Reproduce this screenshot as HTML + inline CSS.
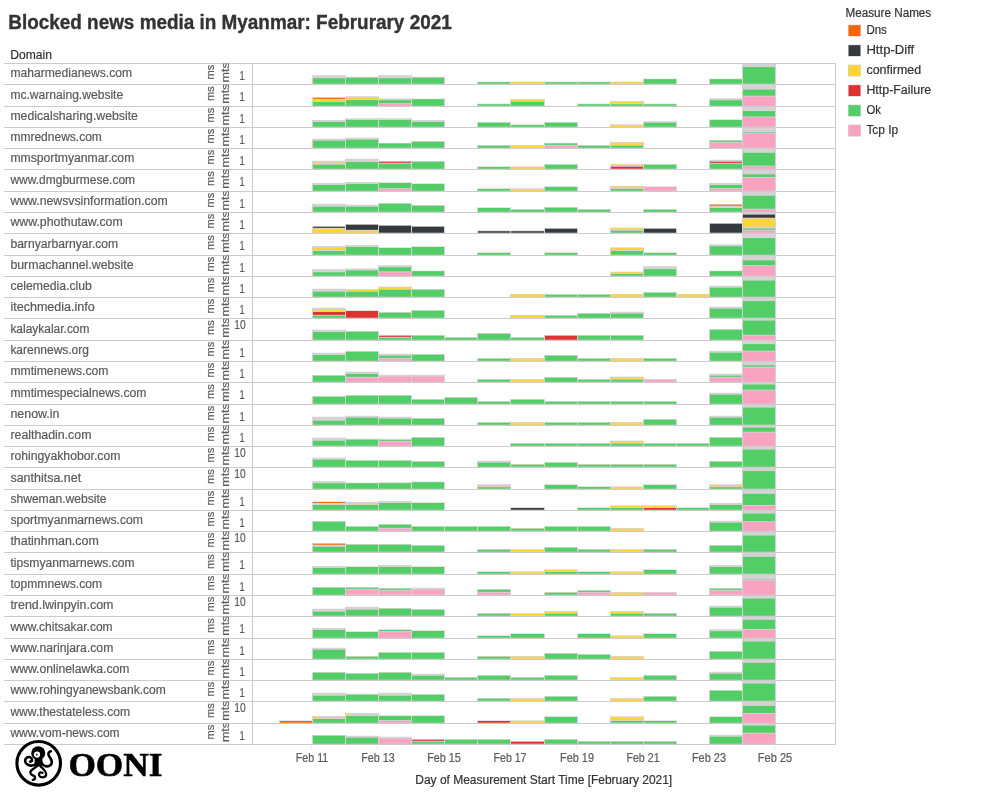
<!DOCTYPE html>
<html lang="en"><head><meta charset="utf-8"><title>Blocked news media in Myanmar</title>
<style>html,body{margin:0;padding:0;background:#fff}body{width:1000px;height:800px;overflow:hidden}svg{display:block;will-change:transform}text{font-family:"Liberation Sans",sans-serif;font-size:12px}.d{fill:#5a5a5a;stroke:#5a5a5a;stroke-width:0.2px}.r{font-size:11.5px}.k{fill:#333333;stroke:#333;stroke-width:0.2px}.t{font-weight:bold;font-size:20px;fill:#333333}.o{font-family:"Liberation Serif",serif;font-weight:bold;font-size:33.5px;fill:#000}</style></head><body>
<svg width="1000" height="800" viewBox="0 0 1000 800">
<rect width="1000" height="800" fill="#fff"/>
<text x="8.3" y="29.2" class="t" textLength="443.4" stroke="#333" stroke-width="0.35" lengthAdjust="spacingAndGlyphs">Blocked news media in Myanmar: Februrary 2021</text>
<text x="10.3" y="58.6" class="k" textLength="41.7" lengthAdjust="spacingAndGlyphs">Domain</text>
<g>
<rect x="742" y="63" width="34" height="681" fill="#d4d2d4"/>
<rect x="312" y="75.25" width="34" height="8.75" fill="#d4d2d4"/>
<rect x="313" y="78.25" width="32" height="5.45" fill="#51cf66"/>
<rect x="345" y="76.75" width="34" height="7.25" fill="#d4d2d4"/>
<rect x="346" y="77.75" width="32" height="5.95" fill="#51cf66"/>
<rect x="378" y="75.25" width="34" height="8.75" fill="#d4d2d4"/>
<rect x="379" y="78.25" width="32" height="5.45" fill="#51cf66"/>
<rect x="411" y="76.75" width="34" height="7.25" fill="#d4d2d4"/>
<rect x="412" y="77.75" width="32" height="5.95" fill="#51cf66"/>
<rect x="477" y="81.65" width="34" height="2.35" fill="#d4d2d4"/>
<rect x="478" y="82.25" width="32" height="1.45" fill="#51cf66"/>
<rect x="510" y="81.65" width="35" height="2.35" fill="#d4d2d4"/>
<rect x="511" y="82.25" width="33" height="1.45" fill="#ffd43b"/>
<rect x="544" y="81.65" width="34" height="2.35" fill="#d4d2d4"/>
<rect x="545" y="82.25" width="32" height="1.45" fill="#51cf66"/>
<rect x="577" y="81.65" width="34" height="2.35" fill="#d4d2d4"/>
<rect x="578" y="82.25" width="32" height="1.45" fill="#51cf66"/>
<rect x="610" y="81.65" width="34" height="2.35" fill="#d4d2d4"/>
<rect x="611" y="82.25" width="32" height="1.45" fill="#ffd43b"/>
<rect x="643" y="78.65" width="34" height="5.35" fill="#d4d2d4"/>
<rect x="644" y="79.25" width="32" height="4.45" fill="#51cf66"/>
<rect x="709" y="78.65" width="34" height="5.35" fill="#d4d2d4"/>
<rect x="710" y="79.25" width="32" height="4.45" fill="#51cf66"/>
<rect x="743" y="67.10" width="32" height="16.60" fill="#51cf66"/>
<rect x="312" y="97.05" width="34" height="8.95" fill="#d4d2d4"/>
<rect x="313" y="101.95" width="32" height="3.75" fill="#51cf66"/>
<rect x="313" y="99.85" width="32" height="1.20" fill="#ffd43b"/>
<rect x="313" y="97.95" width="32" height="1.00" fill="#f76707"/>
<rect x="345" y="96.25" width="34" height="9.75" fill="#d4d2d4"/>
<rect x="346" y="100.05" width="32" height="5.65" fill="#51cf66"/>
<rect x="346" y="97.95" width="32" height="1.20" fill="#ffd43b"/>
<rect x="378" y="98.50" width="34" height="7.50" fill="#d4d2d4"/>
<rect x="379" y="104.05" width="32" height="1.65" fill="#faa2c1"/>
<rect x="379" y="100.25" width="32" height="2.90" fill="#51cf66"/>
<rect x="411" y="98.65" width="34" height="7.35" fill="#d4d2d4"/>
<rect x="412" y="99.25" width="32" height="6.45" fill="#51cf66"/>
<rect x="477" y="103.65" width="34" height="2.35" fill="#d4d2d4"/>
<rect x="478" y="104.25" width="32" height="1.45" fill="#51cf66"/>
<rect x="510" y="99.15" width="35" height="6.85" fill="#d4d2d4"/>
<rect x="511" y="101.75" width="33" height="3.95" fill="#51cf66"/>
<rect x="511" y="99.75" width="33" height="1.10" fill="#ffd43b"/>
<rect x="577" y="103.65" width="34" height="2.35" fill="#d4d2d4"/>
<rect x="578" y="104.25" width="32" height="1.45" fill="#51cf66"/>
<rect x="610" y="101.15" width="34" height="4.85" fill="#d4d2d4"/>
<rect x="611" y="104.25" width="32" height="1.45" fill="#51cf66"/>
<rect x="611" y="101.75" width="32" height="1.60" fill="#ffd43b"/>
<rect x="643" y="103.65" width="34" height="2.35" fill="#d4d2d4"/>
<rect x="644" y="104.25" width="32" height="1.45" fill="#51cf66"/>
<rect x="709" y="98.25" width="34" height="7.75" fill="#d4d2d4"/>
<rect x="710" y="100.25" width="32" height="5.45" fill="#51cf66"/>
<rect x="743" y="96.60" width="32" height="9.10" fill="#faa2c1"/>
<rect x="743" y="89.60" width="32" height="6.10" fill="#51cf66"/>
<rect x="312" y="120.00" width="34" height="7.00" fill="#d4d2d4"/>
<rect x="313" y="122.00" width="32" height="4.70" fill="#51cf66"/>
<rect x="345" y="118.25" width="34" height="8.75" fill="#d4d2d4"/>
<rect x="346" y="120.00" width="32" height="6.70" fill="#51cf66"/>
<rect x="378" y="118.25" width="34" height="8.75" fill="#d4d2d4"/>
<rect x="379" y="120.00" width="32" height="6.70" fill="#51cf66"/>
<rect x="411" y="120.00" width="34" height="7.00" fill="#d4d2d4"/>
<rect x="412" y="122.00" width="32" height="4.70" fill="#51cf66"/>
<rect x="477" y="122.15" width="34" height="4.85" fill="#d4d2d4"/>
<rect x="478" y="122.75" width="32" height="3.95" fill="#51cf66"/>
<rect x="510" y="124.45" width="35" height="2.55" fill="#d4d2d4"/>
<rect x="511" y="125.05" width="33" height="1.65" fill="#51cf66"/>
<rect x="544" y="122.15" width="34" height="4.85" fill="#d4d2d4"/>
<rect x="545" y="122.75" width="32" height="3.95" fill="#51cf66"/>
<rect x="610" y="124.40" width="34" height="2.60" fill="#d4d2d4"/>
<rect x="611" y="125.00" width="32" height="1.70" fill="#ffd43b"/>
<rect x="643" y="121.25" width="34" height="5.75" fill="#d4d2d4"/>
<rect x="644" y="122.75" width="32" height="3.95" fill="#51cf66"/>
<rect x="709" y="119.40" width="34" height="7.60" fill="#d4d2d4"/>
<rect x="710" y="120.00" width="32" height="6.70" fill="#51cf66"/>
<rect x="743" y="117.35" width="32" height="9.35" fill="#faa2c1"/>
<rect x="743" y="111.10" width="32" height="5.35" fill="#51cf66"/>
<rect x="312" y="138.75" width="34" height="9.25" fill="#d4d2d4"/>
<rect x="313" y="140.75" width="32" height="6.95" fill="#51cf66"/>
<rect x="345" y="137.75" width="34" height="10.25" fill="#d4d2d4"/>
<rect x="346" y="139.75" width="32" height="7.95" fill="#51cf66"/>
<rect x="378" y="142.90" width="34" height="5.10" fill="#d4d2d4"/>
<rect x="379" y="143.50" width="32" height="4.20" fill="#51cf66"/>
<rect x="411" y="141.15" width="34" height="6.85" fill="#d4d2d4"/>
<rect x="412" y="141.75" width="32" height="5.95" fill="#51cf66"/>
<rect x="477" y="145.15" width="34" height="2.85" fill="#d4d2d4"/>
<rect x="478" y="145.75" width="32" height="1.95" fill="#51cf66"/>
<rect x="510" y="145.15" width="35" height="2.85" fill="#d4d2d4"/>
<rect x="511" y="145.75" width="33" height="1.95" fill="#ffd43b"/>
<rect x="544" y="142.90" width="34" height="5.10" fill="#d4d2d4"/>
<rect x="545" y="145.75" width="32" height="1.95" fill="#faa2c1"/>
<rect x="545" y="143.50" width="32" height="1.35" fill="#51cf66"/>
<rect x="577" y="145.15" width="34" height="2.85" fill="#d4d2d4"/>
<rect x="578" y="145.75" width="32" height="1.95" fill="#51cf66"/>
<rect x="610" y="142.15" width="34" height="5.85" fill="#d4d2d4"/>
<rect x="611" y="145.75" width="32" height="1.95" fill="#51cf66"/>
<rect x="611" y="142.75" width="32" height="2.10" fill="#ffd43b"/>
<rect x="709" y="140.15" width="34" height="7.85" fill="#d4d2d4"/>
<rect x="710" y="142.75" width="32" height="4.95" fill="#faa2c1"/>
<rect x="710" y="140.75" width="32" height="1.10" fill="#51cf66"/>
<rect x="743" y="133.60" width="32" height="14.10" fill="#faa2c1"/>
<rect x="743" y="132.10" width="32" height="0.60" fill="#51cf66"/>
<rect x="312" y="160.75" width="34" height="8.25" fill="#d4d2d4"/>
<rect x="313" y="164.75" width="32" height="3.95" fill="#51cf66"/>
<rect x="313" y="162.75" width="32" height="1.10" fill="#ffd43b"/>
<rect x="345" y="158.75" width="34" height="10.25" fill="#d4d2d4"/>
<rect x="346" y="162.00" width="32" height="6.70" fill="#51cf66"/>
<rect x="378" y="161.15" width="34" height="7.85" fill="#d4d2d4"/>
<rect x="379" y="163.75" width="32" height="4.95" fill="#51cf66"/>
<rect x="379" y="161.75" width="32" height="1.10" fill="#e03131"/>
<rect x="411" y="161.15" width="34" height="7.85" fill="#d4d2d4"/>
<rect x="412" y="161.75" width="32" height="6.95" fill="#51cf66"/>
<rect x="477" y="166.40" width="34" height="2.60" fill="#d4d2d4"/>
<rect x="478" y="167.00" width="32" height="1.70" fill="#51cf66"/>
<rect x="510" y="166.40" width="35" height="2.60" fill="#d4d2d4"/>
<rect x="511" y="167.00" width="33" height="1.70" fill="#ffd43b"/>
<rect x="544" y="164.15" width="34" height="4.85" fill="#d4d2d4"/>
<rect x="545" y="164.75" width="32" height="3.95" fill="#51cf66"/>
<rect x="610" y="164.15" width="34" height="4.85" fill="#d4d2d4"/>
<rect x="611" y="166.75" width="32" height="1.95" fill="#e03131"/>
<rect x="611" y="164.75" width="32" height="1.10" fill="#ffd43b"/>
<rect x="643" y="164.15" width="34" height="4.85" fill="#d4d2d4"/>
<rect x="644" y="164.75" width="32" height="3.95" fill="#51cf66"/>
<rect x="709" y="159.75" width="34" height="9.25" fill="#d4d2d4"/>
<rect x="710" y="163.75" width="32" height="4.95" fill="#51cf66"/>
<rect x="710" y="161.75" width="32" height="1.10" fill="#e03131"/>
<rect x="743" y="166.60" width="32" height="2.10" fill="#faa2c1"/>
<rect x="743" y="152.85" width="32" height="12.85" fill="#51cf66"/>
<rect x="312" y="183.00" width="34" height="8.00" fill="#d4d2d4"/>
<rect x="313" y="185.00" width="32" height="5.70" fill="#51cf66"/>
<rect x="345" y="182.00" width="34" height="9.00" fill="#d4d2d4"/>
<rect x="346" y="184.00" width="32" height="6.70" fill="#51cf66"/>
<rect x="378" y="182.40" width="34" height="8.60" fill="#d4d2d4"/>
<rect x="379" y="189.00" width="32" height="1.70" fill="#faa2c1"/>
<rect x="379" y="183.00" width="32" height="5.10" fill="#51cf66"/>
<rect x="411" y="183.40" width="34" height="7.60" fill="#d4d2d4"/>
<rect x="412" y="184.00" width="32" height="6.70" fill="#51cf66"/>
<rect x="477" y="188.40" width="34" height="2.60" fill="#d4d2d4"/>
<rect x="478" y="189.00" width="32" height="1.70" fill="#51cf66"/>
<rect x="510" y="188.40" width="35" height="2.60" fill="#d4d2d4"/>
<rect x="511" y="189.00" width="33" height="1.70" fill="#ffd43b"/>
<rect x="544" y="186.40" width="34" height="4.60" fill="#d4d2d4"/>
<rect x="545" y="187.00" width="32" height="3.70" fill="#51cf66"/>
<rect x="610" y="185.90" width="34" height="5.10" fill="#d4d2d4"/>
<rect x="611" y="189.00" width="32" height="1.70" fill="#51cf66"/>
<rect x="611" y="186.50" width="32" height="1.60" fill="#ffd43b"/>
<rect x="643" y="186.40" width="34" height="4.60" fill="#d4d2d4"/>
<rect x="644" y="187.00" width="32" height="3.70" fill="#faa2c1"/>
<rect x="709" y="183.00" width="34" height="8.00" fill="#d4d2d4"/>
<rect x="710" y="189.00" width="32" height="1.70" fill="#faa2c1"/>
<rect x="710" y="185.00" width="32" height="3.10" fill="#51cf66"/>
<rect x="743" y="177.85" width="32" height="12.85" fill="#faa2c1"/>
<rect x="743" y="174.35" width="32" height="2.60" fill="#51cf66"/>
<rect x="312" y="203.75" width="34" height="8.25" fill="#d4d2d4"/>
<rect x="313" y="206.75" width="32" height="4.95" fill="#51cf66"/>
<rect x="345" y="204.75" width="34" height="7.25" fill="#d4d2d4"/>
<rect x="346" y="206.75" width="32" height="4.95" fill="#51cf66"/>
<rect x="378" y="203.15" width="34" height="8.85" fill="#d4d2d4"/>
<rect x="379" y="203.75" width="32" height="7.95" fill="#51cf66"/>
<rect x="411" y="205.15" width="34" height="6.85" fill="#d4d2d4"/>
<rect x="412" y="205.75" width="32" height="5.95" fill="#51cf66"/>
<rect x="477" y="207.40" width="34" height="4.60" fill="#d4d2d4"/>
<rect x="478" y="208.00" width="32" height="3.70" fill="#51cf66"/>
<rect x="510" y="209.15" width="35" height="2.85" fill="#d4d2d4"/>
<rect x="511" y="209.75" width="33" height="1.95" fill="#51cf66"/>
<rect x="544" y="207.15" width="34" height="4.85" fill="#d4d2d4"/>
<rect x="545" y="207.75" width="32" height="3.95" fill="#51cf66"/>
<rect x="577" y="209.15" width="34" height="2.85" fill="#d4d2d4"/>
<rect x="578" y="209.75" width="32" height="1.95" fill="#51cf66"/>
<rect x="643" y="209.15" width="34" height="2.85" fill="#d4d2d4"/>
<rect x="644" y="209.75" width="32" height="1.95" fill="#51cf66"/>
<rect x="709" y="204.15" width="34" height="7.85" fill="#d4d2d4"/>
<rect x="710" y="208.00" width="32" height="3.70" fill="#51cf66"/>
<rect x="710" y="204.75" width="32" height="1.00" fill="#f76707"/>
<rect x="743" y="209.60" width="32" height="2.10" fill="#faa2c1"/>
<rect x="743" y="195.85" width="32" height="12.85" fill="#51cf66"/>
<rect x="312" y="226.15" width="34" height="6.85" fill="#d4d2d4"/>
<rect x="313" y="228.75" width="32" height="3.95" fill="#ffd43b"/>
<rect x="313" y="226.75" width="32" height="1.10" fill="#343a40"/>
<rect x="345" y="224.15" width="34" height="8.85" fill="#d4d2d4"/>
<rect x="346" y="230.75" width="32" height="1.95" fill="#ffd43b"/>
<rect x="346" y="224.75" width="32" height="5.10" fill="#343a40"/>
<rect x="378" y="225.15" width="34" height="7.85" fill="#d4d2d4"/>
<rect x="379" y="225.75" width="32" height="6.95" fill="#343a40"/>
<rect x="411" y="226.15" width="34" height="6.85" fill="#d4d2d4"/>
<rect x="412" y="226.75" width="32" height="5.95" fill="#343a40"/>
<rect x="477" y="230.65" width="34" height="2.35" fill="#d4d2d4"/>
<rect x="478" y="231.25" width="32" height="1.45" fill="#343a40"/>
<rect x="510" y="230.65" width="35" height="2.35" fill="#d4d2d4"/>
<rect x="511" y="231.25" width="33" height="1.45" fill="#343a40"/>
<rect x="544" y="228.15" width="34" height="4.85" fill="#d4d2d4"/>
<rect x="545" y="228.75" width="32" height="3.95" fill="#343a40"/>
<rect x="610" y="227.65" width="34" height="5.35" fill="#d4d2d4"/>
<rect x="611" y="230.75" width="32" height="1.95" fill="#51cf66"/>
<rect x="611" y="228.25" width="32" height="1.60" fill="#ffd43b"/>
<rect x="643" y="228.15" width="34" height="4.85" fill="#d4d2d4"/>
<rect x="644" y="228.75" width="32" height="3.95" fill="#343a40"/>
<rect x="709" y="223.15" width="34" height="9.85" fill="#d4d2d4"/>
<rect x="710" y="223.75" width="32" height="8.95" fill="#343a40"/>
<rect x="743" y="230.60" width="32" height="2.10" fill="#faa2c1"/>
<rect x="743" y="228.60" width="32" height="1.10" fill="#51cf66"/>
<rect x="743" y="218.60" width="32" height="8.00" fill="#ffd43b"/>
<rect x="743" y="214.60" width="32" height="3.10" fill="#343a40"/>
<rect x="312" y="246.00" width="34" height="9.00" fill="#d4d2d4"/>
<rect x="313" y="251.00" width="32" height="3.70" fill="#51cf66"/>
<rect x="313" y="248.00" width="32" height="2.10" fill="#ffd43b"/>
<rect x="345" y="245.00" width="34" height="10.00" fill="#d4d2d4"/>
<rect x="346" y="247.00" width="32" height="7.70" fill="#51cf66"/>
<rect x="378" y="247.40" width="34" height="7.60" fill="#d4d2d4"/>
<rect x="379" y="248.00" width="32" height="6.70" fill="#51cf66"/>
<rect x="411" y="246.40" width="34" height="8.60" fill="#d4d2d4"/>
<rect x="412" y="247.00" width="32" height="7.70" fill="#51cf66"/>
<rect x="477" y="252.40" width="34" height="2.60" fill="#d4d2d4"/>
<rect x="478" y="253.00" width="32" height="1.70" fill="#51cf66"/>
<rect x="544" y="252.40" width="34" height="2.60" fill="#d4d2d4"/>
<rect x="545" y="253.00" width="32" height="1.70" fill="#51cf66"/>
<rect x="610" y="247.40" width="34" height="7.60" fill="#d4d2d4"/>
<rect x="611" y="251.00" width="32" height="3.70" fill="#51cf66"/>
<rect x="611" y="248.00" width="32" height="2.10" fill="#ffd43b"/>
<rect x="643" y="252.40" width="34" height="2.60" fill="#d4d2d4"/>
<rect x="644" y="253.00" width="32" height="1.70" fill="#51cf66"/>
<rect x="709" y="244.25" width="34" height="10.75" fill="#d4d2d4"/>
<rect x="710" y="246.25" width="32" height="8.45" fill="#51cf66"/>
<rect x="743" y="238.10" width="32" height="16.60" fill="#51cf66"/>
<rect x="312" y="269.25" width="34" height="6.75" fill="#d4d2d4"/>
<rect x="313" y="272.25" width="32" height="3.45" fill="#51cf66"/>
<rect x="345" y="268.50" width="34" height="7.50" fill="#d4d2d4"/>
<rect x="346" y="270.50" width="32" height="5.20" fill="#51cf66"/>
<rect x="378" y="265.25" width="34" height="10.75" fill="#d4d2d4"/>
<rect x="379" y="272.25" width="32" height="3.45" fill="#faa2c1"/>
<rect x="379" y="267.25" width="32" height="4.10" fill="#51cf66"/>
<rect x="411" y="270.65" width="34" height="5.35" fill="#d4d2d4"/>
<rect x="412" y="271.25" width="32" height="4.45" fill="#51cf66"/>
<rect x="610" y="271.65" width="34" height="4.35" fill="#d4d2d4"/>
<rect x="611" y="274.00" width="32" height="1.70" fill="#51cf66"/>
<rect x="611" y="272.25" width="32" height="0.85" fill="#ffd43b"/>
<rect x="643" y="266.25" width="34" height="9.75" fill="#d4d2d4"/>
<rect x="644" y="269.25" width="32" height="6.45" fill="#51cf66"/>
<rect x="709" y="270.65" width="34" height="5.35" fill="#d4d2d4"/>
<rect x="710" y="271.25" width="32" height="4.45" fill="#51cf66"/>
<rect x="743" y="266.10" width="32" height="9.60" fill="#faa2c1"/>
<rect x="743" y="260.35" width="32" height="4.85" fill="#51cf66"/>
<rect x="312" y="288.75" width="34" height="8.25" fill="#d4d2d4"/>
<rect x="313" y="291.75" width="32" height="4.95" fill="#51cf66"/>
<rect x="345" y="289.15" width="34" height="7.85" fill="#d4d2d4"/>
<rect x="346" y="291.75" width="32" height="4.95" fill="#51cf66"/>
<rect x="346" y="289.75" width="32" height="1.10" fill="#ffd43b"/>
<rect x="378" y="286.65" width="34" height="10.35" fill="#d4d2d4"/>
<rect x="379" y="289.75" width="32" height="6.95" fill="#51cf66"/>
<rect x="379" y="287.25" width="32" height="1.60" fill="#ffd43b"/>
<rect x="411" y="289.15" width="34" height="7.85" fill="#d4d2d4"/>
<rect x="412" y="289.75" width="32" height="6.95" fill="#51cf66"/>
<rect x="510" y="293.90" width="35" height="3.10" fill="#d4d2d4"/>
<rect x="511" y="294.50" width="33" height="2.20" fill="#ffd43b"/>
<rect x="544" y="294.15" width="34" height="2.85" fill="#d4d2d4"/>
<rect x="545" y="294.75" width="32" height="1.95" fill="#51cf66"/>
<rect x="577" y="294.15" width="34" height="2.85" fill="#d4d2d4"/>
<rect x="578" y="294.75" width="32" height="1.95" fill="#51cf66"/>
<rect x="610" y="293.90" width="34" height="3.10" fill="#d4d2d4"/>
<rect x="611" y="294.50" width="32" height="2.20" fill="#ffd43b"/>
<rect x="643" y="292.15" width="34" height="4.85" fill="#d4d2d4"/>
<rect x="644" y="292.75" width="32" height="3.95" fill="#51cf66"/>
<rect x="676" y="293.90" width="34" height="3.10" fill="#d4d2d4"/>
<rect x="677" y="294.50" width="32" height="2.20" fill="#ffd43b"/>
<rect x="709" y="285.75" width="34" height="11.25" fill="#d4d2d4"/>
<rect x="710" y="287.75" width="32" height="8.95" fill="#51cf66"/>
<rect x="743" y="280.60" width="32" height="16.10" fill="#51cf66"/>
<rect x="312" y="307.75" width="34" height="10.25" fill="#d4d2d4"/>
<rect x="313" y="315.75" width="32" height="1.95" fill="#51cf66"/>
<rect x="313" y="312.00" width="32" height="2.85" fill="#e03131"/>
<rect x="313" y="310.00" width="32" height="1.10" fill="#ffd43b"/>
<rect x="345" y="310.40" width="34" height="7.60" fill="#d4d2d4"/>
<rect x="346" y="311.00" width="32" height="6.70" fill="#e03131"/>
<rect x="378" y="312.15" width="34" height="5.85" fill="#d4d2d4"/>
<rect x="379" y="312.75" width="32" height="4.95" fill="#51cf66"/>
<rect x="411" y="310.15" width="34" height="7.85" fill="#d4d2d4"/>
<rect x="412" y="310.75" width="32" height="6.95" fill="#51cf66"/>
<rect x="510" y="314.90" width="35" height="3.10" fill="#d4d2d4"/>
<rect x="511" y="315.50" width="33" height="2.20" fill="#ffd43b"/>
<rect x="544" y="315.15" width="34" height="2.85" fill="#d4d2d4"/>
<rect x="545" y="315.75" width="32" height="1.95" fill="#51cf66"/>
<rect x="577" y="313.15" width="34" height="4.85" fill="#d4d2d4"/>
<rect x="578" y="313.75" width="32" height="3.95" fill="#51cf66"/>
<rect x="610" y="311.75" width="34" height="6.25" fill="#d4d2d4"/>
<rect x="611" y="313.75" width="32" height="3.95" fill="#51cf66"/>
<rect x="709" y="306.75" width="34" height="11.25" fill="#d4d2d4"/>
<rect x="710" y="308.75" width="32" height="8.95" fill="#51cf66"/>
<rect x="743" y="301.10" width="32" height="16.60" fill="#51cf66"/>
<rect x="312" y="329.75" width="34" height="10.25" fill="#d4d2d4"/>
<rect x="313" y="332.00" width="32" height="7.70" fill="#51cf66"/>
<rect x="345" y="331.15" width="34" height="8.85" fill="#d4d2d4"/>
<rect x="346" y="331.75" width="32" height="7.95" fill="#51cf66"/>
<rect x="378" y="335.15" width="34" height="4.85" fill="#d4d2d4"/>
<rect x="379" y="337.75" width="32" height="1.95" fill="#51cf66"/>
<rect x="379" y="335.75" width="32" height="1.10" fill="#e03131"/>
<rect x="411" y="335.15" width="34" height="4.85" fill="#d4d2d4"/>
<rect x="412" y="335.75" width="32" height="3.95" fill="#51cf66"/>
<rect x="444" y="337.15" width="34" height="2.85" fill="#d4d2d4"/>
<rect x="445" y="337.75" width="32" height="1.95" fill="#51cf66"/>
<rect x="477" y="333.15" width="34" height="6.85" fill="#d4d2d4"/>
<rect x="478" y="333.75" width="32" height="5.95" fill="#51cf66"/>
<rect x="510" y="337.15" width="35" height="2.85" fill="#d4d2d4"/>
<rect x="511" y="337.75" width="33" height="1.95" fill="#51cf66"/>
<rect x="544" y="335.15" width="34" height="4.85" fill="#d4d2d4"/>
<rect x="545" y="335.75" width="32" height="3.95" fill="#e03131"/>
<rect x="577" y="335.15" width="34" height="4.85" fill="#d4d2d4"/>
<rect x="578" y="335.75" width="32" height="3.95" fill="#51cf66"/>
<rect x="610" y="335.15" width="34" height="4.85" fill="#d4d2d4"/>
<rect x="611" y="335.75" width="32" height="3.95" fill="#51cf66"/>
<rect x="709" y="329.15" width="34" height="10.85" fill="#d4d2d4"/>
<rect x="710" y="329.75" width="32" height="9.95" fill="#51cf66"/>
<rect x="743" y="335.60" width="32" height="4.10" fill="#faa2c1"/>
<rect x="743" y="320.60" width="32" height="14.10" fill="#51cf66"/>
<rect x="312" y="352.75" width="34" height="8.25" fill="#d4d2d4"/>
<rect x="313" y="355.00" width="32" height="5.70" fill="#51cf66"/>
<rect x="345" y="351.15" width="34" height="9.85" fill="#d4d2d4"/>
<rect x="346" y="351.75" width="32" height="8.95" fill="#51cf66"/>
<rect x="378" y="353.75" width="34" height="7.25" fill="#d4d2d4"/>
<rect x="379" y="358.75" width="32" height="1.95" fill="#faa2c1"/>
<rect x="379" y="355.75" width="32" height="2.10" fill="#51cf66"/>
<rect x="411" y="354.15" width="34" height="6.85" fill="#d4d2d4"/>
<rect x="412" y="354.75" width="32" height="5.95" fill="#51cf66"/>
<rect x="477" y="358.15" width="34" height="2.85" fill="#d4d2d4"/>
<rect x="478" y="358.75" width="32" height="1.95" fill="#51cf66"/>
<rect x="510" y="358.15" width="35" height="2.85" fill="#d4d2d4"/>
<rect x="511" y="358.75" width="33" height="1.95" fill="#ffd43b"/>
<rect x="544" y="355.15" width="34" height="5.85" fill="#d4d2d4"/>
<rect x="545" y="355.75" width="32" height="4.95" fill="#51cf66"/>
<rect x="577" y="358.15" width="34" height="2.85" fill="#d4d2d4"/>
<rect x="578" y="358.75" width="32" height="1.95" fill="#51cf66"/>
<rect x="610" y="358.15" width="34" height="2.85" fill="#d4d2d4"/>
<rect x="611" y="358.75" width="32" height="1.95" fill="#ffd43b"/>
<rect x="643" y="358.15" width="34" height="2.85" fill="#d4d2d4"/>
<rect x="644" y="358.75" width="32" height="1.95" fill="#51cf66"/>
<rect x="709" y="350.75" width="34" height="10.25" fill="#d4d2d4"/>
<rect x="710" y="352.75" width="32" height="7.95" fill="#51cf66"/>
<rect x="743" y="351.60" width="32" height="9.10" fill="#faa2c1"/>
<rect x="743" y="344.10" width="32" height="6.60" fill="#51cf66"/>
<rect x="312" y="375.15" width="34" height="6.85" fill="#d4d2d4"/>
<rect x="313" y="375.75" width="32" height="5.95" fill="#51cf66"/>
<rect x="345" y="371.75" width="34" height="10.25" fill="#d4d2d4"/>
<rect x="346" y="377.75" width="32" height="3.95" fill="#faa2c1"/>
<rect x="346" y="374.00" width="32" height="2.85" fill="#51cf66"/>
<rect x="378" y="374.75" width="34" height="7.25" fill="#d4d2d4"/>
<rect x="379" y="376.75" width="32" height="4.95" fill="#faa2c1"/>
<rect x="411" y="374.75" width="34" height="7.25" fill="#d4d2d4"/>
<rect x="412" y="376.75" width="32" height="4.95" fill="#faa2c1"/>
<rect x="477" y="379.15" width="34" height="2.85" fill="#d4d2d4"/>
<rect x="478" y="379.75" width="32" height="1.95" fill="#51cf66"/>
<rect x="510" y="379.15" width="35" height="2.85" fill="#d4d2d4"/>
<rect x="511" y="379.75" width="33" height="1.95" fill="#ffd43b"/>
<rect x="544" y="377.15" width="34" height="4.85" fill="#d4d2d4"/>
<rect x="545" y="377.75" width="32" height="3.95" fill="#51cf66"/>
<rect x="577" y="379.15" width="34" height="2.85" fill="#d4d2d4"/>
<rect x="578" y="379.75" width="32" height="1.95" fill="#51cf66"/>
<rect x="610" y="376.65" width="34" height="5.35" fill="#d4d2d4"/>
<rect x="611" y="379.75" width="32" height="1.95" fill="#51cf66"/>
<rect x="611" y="377.25" width="32" height="1.60" fill="#ffd43b"/>
<rect x="643" y="379.15" width="34" height="2.85" fill="#d4d2d4"/>
<rect x="644" y="379.75" width="32" height="1.95" fill="#faa2c1"/>
<rect x="709" y="373.75" width="34" height="8.25" fill="#d4d2d4"/>
<rect x="710" y="377.75" width="32" height="3.95" fill="#faa2c1"/>
<rect x="710" y="375.75" width="32" height="1.10" fill="#51cf66"/>
<rect x="743" y="367.60" width="32" height="14.10" fill="#faa2c1"/>
<rect x="743" y="365.35" width="32" height="1.35" fill="#51cf66"/>
<rect x="312" y="396.15" width="34" height="7.85" fill="#d4d2d4"/>
<rect x="313" y="396.75" width="32" height="6.95" fill="#51cf66"/>
<rect x="345" y="395.15" width="34" height="8.85" fill="#d4d2d4"/>
<rect x="346" y="395.75" width="32" height="7.95" fill="#51cf66"/>
<rect x="378" y="395.15" width="34" height="8.85" fill="#d4d2d4"/>
<rect x="379" y="395.75" width="32" height="7.95" fill="#51cf66"/>
<rect x="411" y="399.15" width="34" height="4.85" fill="#d4d2d4"/>
<rect x="412" y="399.75" width="32" height="3.95" fill="#51cf66"/>
<rect x="444" y="397.15" width="34" height="6.85" fill="#d4d2d4"/>
<rect x="445" y="397.75" width="32" height="5.95" fill="#51cf66"/>
<rect x="477" y="401.15" width="34" height="2.85" fill="#d4d2d4"/>
<rect x="478" y="401.75" width="32" height="1.95" fill="#51cf66"/>
<rect x="510" y="399.15" width="35" height="4.85" fill="#d4d2d4"/>
<rect x="511" y="399.75" width="33" height="3.95" fill="#51cf66"/>
<rect x="544" y="401.15" width="34" height="2.85" fill="#d4d2d4"/>
<rect x="545" y="401.75" width="32" height="1.95" fill="#51cf66"/>
<rect x="577" y="401.15" width="34" height="2.85" fill="#d4d2d4"/>
<rect x="578" y="401.75" width="32" height="1.95" fill="#51cf66"/>
<rect x="610" y="401.15" width="34" height="2.85" fill="#d4d2d4"/>
<rect x="611" y="401.75" width="32" height="1.95" fill="#51cf66"/>
<rect x="643" y="401.15" width="34" height="2.85" fill="#d4d2d4"/>
<rect x="644" y="401.75" width="32" height="1.95" fill="#51cf66"/>
<rect x="709" y="392.75" width="34" height="11.25" fill="#d4d2d4"/>
<rect x="710" y="394.75" width="32" height="8.95" fill="#51cf66"/>
<rect x="743" y="390.60" width="32" height="13.10" fill="#faa2c1"/>
<rect x="743" y="384.60" width="32" height="5.10" fill="#51cf66"/>
<rect x="312" y="416.75" width="34" height="8.25" fill="#d4d2d4"/>
<rect x="313" y="420.75" width="32" height="3.95" fill="#51cf66"/>
<rect x="345" y="415.75" width="34" height="9.25" fill="#d4d2d4"/>
<rect x="346" y="417.75" width="32" height="6.95" fill="#51cf66"/>
<rect x="378" y="416.75" width="34" height="8.25" fill="#d4d2d4"/>
<rect x="379" y="418.75" width="32" height="5.95" fill="#51cf66"/>
<rect x="411" y="418.15" width="34" height="6.85" fill="#d4d2d4"/>
<rect x="412" y="418.75" width="32" height="5.95" fill="#51cf66"/>
<rect x="477" y="422.15" width="34" height="2.85" fill="#d4d2d4"/>
<rect x="478" y="422.75" width="32" height="1.95" fill="#51cf66"/>
<rect x="510" y="422.15" width="35" height="2.85" fill="#d4d2d4"/>
<rect x="511" y="422.75" width="33" height="1.95" fill="#ffd43b"/>
<rect x="544" y="422.15" width="34" height="2.85" fill="#d4d2d4"/>
<rect x="545" y="422.75" width="32" height="1.95" fill="#51cf66"/>
<rect x="577" y="422.15" width="34" height="2.85" fill="#d4d2d4"/>
<rect x="578" y="422.75" width="32" height="1.95" fill="#51cf66"/>
<rect x="610" y="422.15" width="34" height="2.85" fill="#d4d2d4"/>
<rect x="611" y="422.75" width="32" height="1.95" fill="#ffd43b"/>
<rect x="643" y="419.15" width="34" height="5.85" fill="#d4d2d4"/>
<rect x="644" y="419.75" width="32" height="4.95" fill="#51cf66"/>
<rect x="709" y="415.75" width="34" height="9.25" fill="#d4d2d4"/>
<rect x="710" y="417.75" width="32" height="6.95" fill="#51cf66"/>
<rect x="743" y="407.60" width="32" height="17.10" fill="#51cf66"/>
<rect x="312" y="437.75" width="34" height="8.25" fill="#d4d2d4"/>
<rect x="313" y="440.75" width="32" height="4.95" fill="#51cf66"/>
<rect x="345" y="438.75" width="34" height="7.25" fill="#d4d2d4"/>
<rect x="346" y="439.75" width="32" height="5.95" fill="#51cf66"/>
<rect x="378" y="438.75" width="34" height="7.25" fill="#d4d2d4"/>
<rect x="379" y="441.75" width="32" height="3.95" fill="#faa2c1"/>
<rect x="379" y="440.00" width="32" height="0.85" fill="#51cf66"/>
<rect x="411" y="437.15" width="34" height="8.85" fill="#d4d2d4"/>
<rect x="412" y="437.75" width="32" height="7.95" fill="#51cf66"/>
<rect x="510" y="443.15" width="35" height="2.85" fill="#d4d2d4"/>
<rect x="511" y="443.75" width="33" height="1.95" fill="#51cf66"/>
<rect x="544" y="443.15" width="34" height="2.85" fill="#d4d2d4"/>
<rect x="545" y="443.75" width="32" height="1.95" fill="#51cf66"/>
<rect x="577" y="443.15" width="34" height="2.85" fill="#d4d2d4"/>
<rect x="578" y="443.75" width="32" height="1.95" fill="#51cf66"/>
<rect x="610" y="440.65" width="34" height="5.35" fill="#d4d2d4"/>
<rect x="611" y="443.75" width="32" height="1.95" fill="#51cf66"/>
<rect x="611" y="441.25" width="32" height="1.60" fill="#ffd43b"/>
<rect x="643" y="443.15" width="34" height="2.85" fill="#d4d2d4"/>
<rect x="644" y="443.75" width="32" height="1.95" fill="#51cf66"/>
<rect x="676" y="443.15" width="34" height="2.85" fill="#d4d2d4"/>
<rect x="677" y="443.75" width="32" height="1.95" fill="#51cf66"/>
<rect x="709" y="437.15" width="34" height="8.85" fill="#d4d2d4"/>
<rect x="710" y="437.75" width="32" height="7.95" fill="#51cf66"/>
<rect x="743" y="432.60" width="32" height="13.10" fill="#faa2c1"/>
<rect x="743" y="427.60" width="32" height="4.10" fill="#51cf66"/>
<rect x="312" y="457.75" width="34" height="9.25" fill="#d4d2d4"/>
<rect x="313" y="459.75" width="32" height="6.95" fill="#51cf66"/>
<rect x="345" y="460.15" width="34" height="6.85" fill="#d4d2d4"/>
<rect x="346" y="460.75" width="32" height="5.95" fill="#51cf66"/>
<rect x="378" y="460.15" width="34" height="6.85" fill="#d4d2d4"/>
<rect x="379" y="460.75" width="32" height="5.95" fill="#51cf66"/>
<rect x="411" y="461.15" width="34" height="5.85" fill="#d4d2d4"/>
<rect x="412" y="461.75" width="32" height="4.95" fill="#51cf66"/>
<rect x="477" y="460.75" width="34" height="6.25" fill="#d4d2d4"/>
<rect x="478" y="462.75" width="32" height="3.95" fill="#51cf66"/>
<rect x="510" y="464.15" width="35" height="2.85" fill="#d4d2d4"/>
<rect x="511" y="464.75" width="33" height="1.95" fill="#51cf66"/>
<rect x="544" y="462.15" width="34" height="4.85" fill="#d4d2d4"/>
<rect x="545" y="462.75" width="32" height="3.95" fill="#51cf66"/>
<rect x="577" y="464.15" width="34" height="2.85" fill="#d4d2d4"/>
<rect x="578" y="464.75" width="32" height="1.95" fill="#51cf66"/>
<rect x="610" y="464.15" width="34" height="2.85" fill="#d4d2d4"/>
<rect x="611" y="464.75" width="32" height="1.95" fill="#51cf66"/>
<rect x="643" y="464.15" width="34" height="2.85" fill="#d4d2d4"/>
<rect x="644" y="464.75" width="32" height="1.95" fill="#51cf66"/>
<rect x="709" y="461.15" width="34" height="5.85" fill="#d4d2d4"/>
<rect x="710" y="461.75" width="32" height="4.95" fill="#51cf66"/>
<rect x="743" y="449.60" width="32" height="17.10" fill="#51cf66"/>
<rect x="312" y="481.25" width="34" height="7.75" fill="#d4d2d4"/>
<rect x="313" y="483.25" width="32" height="5.45" fill="#51cf66"/>
<rect x="345" y="482.65" width="34" height="6.35" fill="#d4d2d4"/>
<rect x="346" y="483.25" width="32" height="5.45" fill="#51cf66"/>
<rect x="378" y="482.25" width="34" height="6.75" fill="#d4d2d4"/>
<rect x="379" y="483.25" width="32" height="5.45" fill="#51cf66"/>
<rect x="411" y="481.65" width="34" height="7.35" fill="#d4d2d4"/>
<rect x="412" y="482.25" width="32" height="6.45" fill="#51cf66"/>
<rect x="477" y="484.25" width="34" height="4.75" fill="#d4d2d4"/>
<rect x="478" y="487.25" width="32" height="1.45" fill="#51cf66"/>
<rect x="478" y="485.25" width="32" height="1.10" fill="#ffd43b"/>
<rect x="544" y="484.40" width="34" height="4.60" fill="#d4d2d4"/>
<rect x="545" y="485.00" width="32" height="3.70" fill="#51cf66"/>
<rect x="577" y="486.40" width="34" height="2.60" fill="#d4d2d4"/>
<rect x="578" y="487.00" width="32" height="1.70" fill="#51cf66"/>
<rect x="610" y="486.40" width="34" height="2.60" fill="#d4d2d4"/>
<rect x="611" y="487.00" width="32" height="1.70" fill="#ffd43b"/>
<rect x="643" y="484.40" width="34" height="4.60" fill="#d4d2d4"/>
<rect x="644" y="485.00" width="32" height="3.70" fill="#51cf66"/>
<rect x="709" y="484.25" width="34" height="4.75" fill="#d4d2d4"/>
<rect x="710" y="487.25" width="32" height="1.45" fill="#51cf66"/>
<rect x="710" y="485.25" width="32" height="1.10" fill="#ffd43b"/>
<rect x="743" y="471.10" width="32" height="17.60" fill="#51cf66"/>
<rect x="312" y="501.40" width="34" height="8.60" fill="#d4d2d4"/>
<rect x="313" y="505.00" width="32" height="4.70" fill="#51cf66"/>
<rect x="313" y="502.00" width="32" height="0.95" fill="#f76707"/>
<rect x="345" y="502.00" width="34" height="8.00" fill="#d4d2d4"/>
<rect x="346" y="505.00" width="32" height="4.70" fill="#51cf66"/>
<rect x="346" y="503.00" width="32" height="1.10" fill="#ffd43b"/>
<rect x="378" y="501.00" width="34" height="9.00" fill="#d4d2d4"/>
<rect x="379" y="503.00" width="32" height="6.70" fill="#51cf66"/>
<rect x="411" y="502.40" width="34" height="7.60" fill="#d4d2d4"/>
<rect x="412" y="503.00" width="32" height="6.70" fill="#51cf66"/>
<rect x="510" y="507.40" width="35" height="2.60" fill="#d4d2d4"/>
<rect x="511" y="508.00" width="33" height="1.70" fill="#343a40"/>
<rect x="577" y="507.40" width="34" height="2.60" fill="#d4d2d4"/>
<rect x="578" y="508.00" width="32" height="1.70" fill="#51cf66"/>
<rect x="610" y="505.40" width="34" height="4.60" fill="#d4d2d4"/>
<rect x="611" y="508.00" width="32" height="1.70" fill="#51cf66"/>
<rect x="611" y="506.00" width="32" height="1.10" fill="#ffd43b"/>
<rect x="643" y="505.40" width="34" height="4.60" fill="#d4d2d4"/>
<rect x="644" y="508.00" width="32" height="1.70" fill="#e03131"/>
<rect x="644" y="506.00" width="32" height="1.10" fill="#ffd43b"/>
<rect x="676" y="507.40" width="34" height="2.60" fill="#d4d2d4"/>
<rect x="677" y="508.00" width="32" height="1.70" fill="#51cf66"/>
<rect x="709" y="503.00" width="34" height="7.00" fill="#d4d2d4"/>
<rect x="710" y="505.00" width="32" height="4.70" fill="#51cf66"/>
<rect x="743" y="505.85" width="32" height="3.85" fill="#faa2c1"/>
<rect x="743" y="493.85" width="32" height="11.10" fill="#51cf66"/>
<rect x="312" y="521.15" width="34" height="9.85" fill="#d4d2d4"/>
<rect x="313" y="521.75" width="32" height="8.95" fill="#51cf66"/>
<rect x="345" y="526.15" width="34" height="4.85" fill="#d4d2d4"/>
<rect x="346" y="526.75" width="32" height="3.95" fill="#51cf66"/>
<rect x="378" y="524.15" width="34" height="6.85" fill="#d4d2d4"/>
<rect x="379" y="528.75" width="32" height="1.95" fill="#faa2c1"/>
<rect x="379" y="524.75" width="32" height="3.10" fill="#51cf66"/>
<rect x="411" y="526.15" width="34" height="4.85" fill="#d4d2d4"/>
<rect x="412" y="526.75" width="32" height="3.95" fill="#51cf66"/>
<rect x="444" y="526.15" width="34" height="4.85" fill="#d4d2d4"/>
<rect x="445" y="526.75" width="32" height="3.95" fill="#51cf66"/>
<rect x="477" y="526.15" width="34" height="4.85" fill="#d4d2d4"/>
<rect x="478" y="526.75" width="32" height="3.95" fill="#51cf66"/>
<rect x="510" y="528.15" width="35" height="2.85" fill="#d4d2d4"/>
<rect x="511" y="528.75" width="33" height="1.95" fill="#51cf66"/>
<rect x="544" y="526.15" width="34" height="4.85" fill="#d4d2d4"/>
<rect x="545" y="526.75" width="32" height="3.95" fill="#51cf66"/>
<rect x="577" y="526.15" width="34" height="4.85" fill="#d4d2d4"/>
<rect x="578" y="526.75" width="32" height="3.95" fill="#51cf66"/>
<rect x="610" y="528.15" width="34" height="2.85" fill="#d4d2d4"/>
<rect x="611" y="528.75" width="32" height="1.95" fill="#ffd43b"/>
<rect x="709" y="520.75" width="34" height="10.25" fill="#d4d2d4"/>
<rect x="710" y="522.75" width="32" height="7.95" fill="#51cf66"/>
<rect x="743" y="522.10" width="32" height="8.60" fill="#faa2c1"/>
<rect x="743" y="513.60" width="32" height="7.60" fill="#51cf66"/>
<rect x="312" y="543.15" width="34" height="8.85" fill="#d4d2d4"/>
<rect x="313" y="546.75" width="32" height="4.95" fill="#51cf66"/>
<rect x="313" y="543.75" width="32" height="1.00" fill="#f76707"/>
<rect x="345" y="544.15" width="34" height="7.85" fill="#d4d2d4"/>
<rect x="346" y="544.75" width="32" height="6.95" fill="#51cf66"/>
<rect x="378" y="544.15" width="34" height="7.85" fill="#d4d2d4"/>
<rect x="379" y="544.75" width="32" height="6.95" fill="#51cf66"/>
<rect x="411" y="545.15" width="34" height="6.85" fill="#d4d2d4"/>
<rect x="412" y="545.75" width="32" height="5.95" fill="#51cf66"/>
<rect x="477" y="549.15" width="34" height="2.85" fill="#d4d2d4"/>
<rect x="478" y="549.75" width="32" height="1.95" fill="#51cf66"/>
<rect x="510" y="549.15" width="35" height="2.85" fill="#d4d2d4"/>
<rect x="511" y="549.75" width="33" height="1.95" fill="#ffd43b"/>
<rect x="544" y="547.15" width="34" height="4.85" fill="#d4d2d4"/>
<rect x="545" y="547.75" width="32" height="3.95" fill="#51cf66"/>
<rect x="577" y="549.15" width="34" height="2.85" fill="#d4d2d4"/>
<rect x="578" y="549.75" width="32" height="1.95" fill="#51cf66"/>
<rect x="610" y="549.15" width="34" height="2.85" fill="#d4d2d4"/>
<rect x="611" y="549.75" width="32" height="1.95" fill="#ffd43b"/>
<rect x="643" y="549.15" width="34" height="2.85" fill="#d4d2d4"/>
<rect x="644" y="549.75" width="32" height="1.95" fill="#51cf66"/>
<rect x="709" y="545.15" width="34" height="6.85" fill="#d4d2d4"/>
<rect x="710" y="545.75" width="32" height="5.95" fill="#51cf66"/>
<rect x="743" y="535.60" width="32" height="16.10" fill="#51cf66"/>
<rect x="312" y="566.00" width="34" height="8.00" fill="#d4d2d4"/>
<rect x="313" y="568.00" width="32" height="5.70" fill="#51cf66"/>
<rect x="345" y="566.40" width="34" height="7.60" fill="#d4d2d4"/>
<rect x="346" y="567.00" width="32" height="6.70" fill="#51cf66"/>
<rect x="378" y="565.00" width="34" height="9.00" fill="#d4d2d4"/>
<rect x="379" y="567.00" width="32" height="6.70" fill="#51cf66"/>
<rect x="411" y="566.40" width="34" height="7.60" fill="#d4d2d4"/>
<rect x="412" y="567.00" width="32" height="6.70" fill="#51cf66"/>
<rect x="477" y="571.40" width="34" height="2.60" fill="#d4d2d4"/>
<rect x="478" y="572.00" width="32" height="1.70" fill="#51cf66"/>
<rect x="510" y="571.40" width="35" height="2.60" fill="#d4d2d4"/>
<rect x="511" y="572.00" width="33" height="1.70" fill="#ffd43b"/>
<rect x="544" y="569.40" width="34" height="4.60" fill="#d4d2d4"/>
<rect x="545" y="572.00" width="32" height="1.70" fill="#51cf66"/>
<rect x="545" y="570.00" width="32" height="1.10" fill="#ffd43b"/>
<rect x="577" y="571.40" width="34" height="2.60" fill="#d4d2d4"/>
<rect x="578" y="572.00" width="32" height="1.70" fill="#51cf66"/>
<rect x="610" y="571.40" width="34" height="2.60" fill="#d4d2d4"/>
<rect x="611" y="572.00" width="32" height="1.70" fill="#ffd43b"/>
<rect x="643" y="569.40" width="34" height="4.60" fill="#d4d2d4"/>
<rect x="644" y="570.00" width="32" height="3.70" fill="#51cf66"/>
<rect x="709" y="565.00" width="34" height="9.00" fill="#d4d2d4"/>
<rect x="710" y="567.00" width="32" height="6.70" fill="#51cf66"/>
<rect x="743" y="556.85" width="32" height="16.85" fill="#51cf66"/>
<rect x="312" y="587.15" width="34" height="7.85" fill="#d4d2d4"/>
<rect x="313" y="587.75" width="32" height="6.95" fill="#51cf66"/>
<rect x="345" y="587.15" width="34" height="7.85" fill="#d4d2d4"/>
<rect x="346" y="589.75" width="32" height="4.95" fill="#faa2c1"/>
<rect x="346" y="587.75" width="32" height="1.10" fill="#51cf66"/>
<rect x="378" y="588.15" width="34" height="6.85" fill="#d4d2d4"/>
<rect x="379" y="590.75" width="32" height="3.95" fill="#faa2c1"/>
<rect x="379" y="588.75" width="32" height="1.10" fill="#51cf66"/>
<rect x="411" y="587.75" width="34" height="7.25" fill="#d4d2d4"/>
<rect x="412" y="589.75" width="32" height="4.95" fill="#faa2c1"/>
<rect x="477" y="589.15" width="34" height="5.85" fill="#d4d2d4"/>
<rect x="478" y="592.75" width="32" height="1.95" fill="#faa2c1"/>
<rect x="478" y="589.75" width="32" height="2.10" fill="#51cf66"/>
<rect x="544" y="592.15" width="34" height="2.85" fill="#d4d2d4"/>
<rect x="545" y="592.75" width="32" height="1.95" fill="#51cf66"/>
<rect x="577" y="590.15" width="34" height="4.85" fill="#d4d2d4"/>
<rect x="578" y="592.75" width="32" height="1.95" fill="#faa2c1"/>
<rect x="578" y="590.75" width="32" height="1.10" fill="#51cf66"/>
<rect x="610" y="592.15" width="34" height="2.85" fill="#d4d2d4"/>
<rect x="611" y="592.75" width="32" height="1.95" fill="#ffd43b"/>
<rect x="643" y="592.15" width="34" height="2.85" fill="#d4d2d4"/>
<rect x="644" y="592.75" width="32" height="1.95" fill="#faa2c1"/>
<rect x="709" y="588.15" width="34" height="6.85" fill="#d4d2d4"/>
<rect x="710" y="590.75" width="32" height="3.95" fill="#faa2c1"/>
<rect x="710" y="588.75" width="32" height="1.10" fill="#51cf66"/>
<rect x="743" y="580.60" width="32" height="14.10" fill="#faa2c1"/>
<rect x="743" y="579.35" width="32" height="0.35" fill="#51cf66"/>
<rect x="312" y="608.75" width="34" height="7.25" fill="#d4d2d4"/>
<rect x="313" y="611.75" width="32" height="3.95" fill="#51cf66"/>
<rect x="345" y="606.75" width="34" height="9.25" fill="#d4d2d4"/>
<rect x="346" y="609.75" width="32" height="5.95" fill="#51cf66"/>
<rect x="378" y="608.15" width="34" height="7.85" fill="#d4d2d4"/>
<rect x="379" y="608.75" width="32" height="6.95" fill="#51cf66"/>
<rect x="411" y="609.15" width="34" height="6.85" fill="#d4d2d4"/>
<rect x="412" y="609.75" width="32" height="5.95" fill="#51cf66"/>
<rect x="477" y="613.15" width="34" height="2.85" fill="#d4d2d4"/>
<rect x="478" y="613.75" width="32" height="1.95" fill="#51cf66"/>
<rect x="510" y="613.15" width="35" height="2.85" fill="#d4d2d4"/>
<rect x="511" y="613.75" width="33" height="1.95" fill="#ffd43b"/>
<rect x="544" y="611.15" width="34" height="4.85" fill="#d4d2d4"/>
<rect x="545" y="613.75" width="32" height="1.95" fill="#51cf66"/>
<rect x="545" y="611.75" width="32" height="1.10" fill="#ffd43b"/>
<rect x="610" y="611.15" width="34" height="4.85" fill="#d4d2d4"/>
<rect x="611" y="613.75" width="32" height="1.95" fill="#51cf66"/>
<rect x="611" y="611.75" width="32" height="1.10" fill="#ffd43b"/>
<rect x="643" y="613.15" width="34" height="2.85" fill="#d4d2d4"/>
<rect x="644" y="613.75" width="32" height="1.95" fill="#51cf66"/>
<rect x="709" y="605.75" width="34" height="10.25" fill="#d4d2d4"/>
<rect x="710" y="607.75" width="32" height="7.95" fill="#51cf66"/>
<rect x="743" y="598.60" width="32" height="17.10" fill="#51cf66"/>
<rect x="312" y="628.00" width="34" height="10.00" fill="#d4d2d4"/>
<rect x="313" y="630.00" width="32" height="7.70" fill="#51cf66"/>
<rect x="345" y="631.40" width="34" height="6.60" fill="#d4d2d4"/>
<rect x="346" y="632.00" width="32" height="5.70" fill="#51cf66"/>
<rect x="378" y="629.40" width="34" height="8.60" fill="#d4d2d4"/>
<rect x="379" y="632.00" width="32" height="5.70" fill="#faa2c1"/>
<rect x="379" y="630.00" width="32" height="1.10" fill="#51cf66"/>
<rect x="411" y="630.40" width="34" height="7.60" fill="#d4d2d4"/>
<rect x="412" y="631.00" width="32" height="6.70" fill="#51cf66"/>
<rect x="477" y="635.40" width="34" height="2.60" fill="#d4d2d4"/>
<rect x="478" y="636.00" width="32" height="1.70" fill="#51cf66"/>
<rect x="510" y="633.40" width="35" height="4.60" fill="#d4d2d4"/>
<rect x="511" y="634.00" width="33" height="3.70" fill="#51cf66"/>
<rect x="577" y="633.40" width="34" height="4.60" fill="#d4d2d4"/>
<rect x="578" y="634.00" width="32" height="3.70" fill="#51cf66"/>
<rect x="610" y="635.40" width="34" height="2.60" fill="#d4d2d4"/>
<rect x="611" y="636.00" width="32" height="1.70" fill="#ffd43b"/>
<rect x="643" y="633.40" width="34" height="4.60" fill="#d4d2d4"/>
<rect x="644" y="634.00" width="32" height="3.70" fill="#51cf66"/>
<rect x="709" y="629.25" width="34" height="8.75" fill="#d4d2d4"/>
<rect x="710" y="631.25" width="32" height="6.45" fill="#51cf66"/>
<rect x="743" y="629.85" width="32" height="7.85" fill="#faa2c1"/>
<rect x="743" y="619.85" width="32" height="9.10" fill="#51cf66"/>
<rect x="312" y="647.75" width="34" height="11.25" fill="#d4d2d4"/>
<rect x="313" y="649.75" width="32" height="8.95" fill="#51cf66"/>
<rect x="345" y="656.15" width="34" height="2.85" fill="#d4d2d4"/>
<rect x="346" y="656.75" width="32" height="1.95" fill="#51cf66"/>
<rect x="378" y="652.15" width="34" height="6.85" fill="#d4d2d4"/>
<rect x="379" y="652.75" width="32" height="5.95" fill="#51cf66"/>
<rect x="411" y="652.15" width="34" height="6.85" fill="#d4d2d4"/>
<rect x="412" y="652.75" width="32" height="5.95" fill="#51cf66"/>
<rect x="477" y="656.15" width="34" height="2.85" fill="#d4d2d4"/>
<rect x="478" y="656.75" width="32" height="1.95" fill="#51cf66"/>
<rect x="510" y="656.15" width="35" height="2.85" fill="#d4d2d4"/>
<rect x="511" y="656.75" width="33" height="1.95" fill="#ffd43b"/>
<rect x="544" y="653.15" width="34" height="5.85" fill="#d4d2d4"/>
<rect x="545" y="653.75" width="32" height="4.95" fill="#51cf66"/>
<rect x="577" y="654.15" width="34" height="4.85" fill="#d4d2d4"/>
<rect x="578" y="654.75" width="32" height="3.95" fill="#51cf66"/>
<rect x="610" y="656.15" width="34" height="2.85" fill="#d4d2d4"/>
<rect x="611" y="656.75" width="32" height="1.95" fill="#ffd43b"/>
<rect x="709" y="651.15" width="34" height="7.85" fill="#d4d2d4"/>
<rect x="710" y="651.75" width="32" height="6.95" fill="#51cf66"/>
<rect x="743" y="641.60" width="32" height="17.10" fill="#51cf66"/>
<rect x="312" y="672.15" width="34" height="7.85" fill="#d4d2d4"/>
<rect x="313" y="672.75" width="32" height="6.95" fill="#51cf66"/>
<rect x="345" y="673.15" width="34" height="6.85" fill="#d4d2d4"/>
<rect x="346" y="673.75" width="32" height="5.95" fill="#51cf66"/>
<rect x="378" y="672.15" width="34" height="7.85" fill="#d4d2d4"/>
<rect x="379" y="672.75" width="32" height="6.95" fill="#51cf66"/>
<rect x="411" y="673.75" width="34" height="6.25" fill="#d4d2d4"/>
<rect x="412" y="675.75" width="32" height="3.95" fill="#51cf66"/>
<rect x="444" y="677.15" width="34" height="2.85" fill="#d4d2d4"/>
<rect x="445" y="677.75" width="32" height="1.95" fill="#51cf66"/>
<rect x="477" y="675.15" width="34" height="4.85" fill="#d4d2d4"/>
<rect x="478" y="675.75" width="32" height="3.95" fill="#51cf66"/>
<rect x="510" y="677.15" width="35" height="2.85" fill="#d4d2d4"/>
<rect x="511" y="677.75" width="33" height="1.95" fill="#51cf66"/>
<rect x="544" y="675.15" width="34" height="4.85" fill="#d4d2d4"/>
<rect x="545" y="675.75" width="32" height="3.95" fill="#51cf66"/>
<rect x="610" y="677.15" width="34" height="2.85" fill="#d4d2d4"/>
<rect x="611" y="677.75" width="32" height="1.95" fill="#ffd43b"/>
<rect x="643" y="675.15" width="34" height="4.85" fill="#d4d2d4"/>
<rect x="644" y="675.75" width="32" height="3.95" fill="#51cf66"/>
<rect x="709" y="671.75" width="34" height="8.25" fill="#d4d2d4"/>
<rect x="710" y="673.75" width="32" height="5.95" fill="#51cf66"/>
<rect x="743" y="662.85" width="32" height="16.85" fill="#51cf66"/>
<rect x="312" y="692.75" width="34" height="8.25" fill="#d4d2d4"/>
<rect x="313" y="695.75" width="32" height="4.95" fill="#51cf66"/>
<rect x="345" y="693.75" width="34" height="7.25" fill="#d4d2d4"/>
<rect x="346" y="694.75" width="32" height="5.95" fill="#51cf66"/>
<rect x="378" y="692.75" width="34" height="8.25" fill="#d4d2d4"/>
<rect x="379" y="695.75" width="32" height="4.95" fill="#51cf66"/>
<rect x="411" y="694.15" width="34" height="6.85" fill="#d4d2d4"/>
<rect x="412" y="694.75" width="32" height="5.95" fill="#51cf66"/>
<rect x="477" y="698.15" width="34" height="2.85" fill="#d4d2d4"/>
<rect x="478" y="698.75" width="32" height="1.95" fill="#51cf66"/>
<rect x="510" y="698.15" width="35" height="2.85" fill="#d4d2d4"/>
<rect x="511" y="698.75" width="33" height="1.95" fill="#ffd43b"/>
<rect x="544" y="696.15" width="34" height="4.85" fill="#d4d2d4"/>
<rect x="545" y="696.75" width="32" height="3.95" fill="#51cf66"/>
<rect x="610" y="698.15" width="34" height="2.85" fill="#d4d2d4"/>
<rect x="611" y="698.75" width="32" height="1.95" fill="#ffd43b"/>
<rect x="643" y="696.15" width="34" height="4.85" fill="#d4d2d4"/>
<rect x="644" y="696.75" width="32" height="3.95" fill="#51cf66"/>
<rect x="709" y="690.15" width="34" height="10.85" fill="#d4d2d4"/>
<rect x="710" y="690.75" width="32" height="9.95" fill="#51cf66"/>
<rect x="743" y="683.60" width="32" height="17.10" fill="#51cf66"/>
<rect x="279" y="720.40" width="34" height="2.60" fill="#d4d2d4"/>
<rect x="280" y="721.00" width="32" height="1.70" fill="#f76707"/>
<rect x="312" y="716.00" width="34" height="7.00" fill="#d4d2d4"/>
<rect x="313" y="719.00" width="32" height="3.70" fill="#51cf66"/>
<rect x="313" y="717.00" width="32" height="1.10" fill="#ffd43b"/>
<rect x="345" y="713.00" width="34" height="10.00" fill="#d4d2d4"/>
<rect x="346" y="716.00" width="32" height="6.70" fill="#51cf66"/>
<rect x="378" y="715.40" width="34" height="7.60" fill="#d4d2d4"/>
<rect x="379" y="721.00" width="32" height="1.70" fill="#faa2c1"/>
<rect x="379" y="716.00" width="32" height="4.10" fill="#51cf66"/>
<rect x="411" y="715.40" width="34" height="7.60" fill="#d4d2d4"/>
<rect x="412" y="716.00" width="32" height="6.70" fill="#51cf66"/>
<rect x="477" y="720.40" width="34" height="2.60" fill="#d4d2d4"/>
<rect x="478" y="721.00" width="32" height="1.70" fill="#e03131"/>
<rect x="510" y="720.40" width="35" height="2.60" fill="#d4d2d4"/>
<rect x="511" y="721.00" width="33" height="1.70" fill="#ffd43b"/>
<rect x="544" y="716.40" width="34" height="6.60" fill="#d4d2d4"/>
<rect x="545" y="717.00" width="32" height="5.70" fill="#51cf66"/>
<rect x="610" y="716.40" width="34" height="6.60" fill="#d4d2d4"/>
<rect x="611" y="721.00" width="32" height="1.70" fill="#51cf66"/>
<rect x="611" y="717.00" width="32" height="3.10" fill="#ffd43b"/>
<rect x="643" y="720.40" width="34" height="2.60" fill="#d4d2d4"/>
<rect x="644" y="721.00" width="32" height="1.70" fill="#51cf66"/>
<rect x="709" y="716.40" width="34" height="6.60" fill="#d4d2d4"/>
<rect x="710" y="717.00" width="32" height="5.70" fill="#51cf66"/>
<rect x="743" y="713.85" width="32" height="8.85" fill="#faa2c1"/>
<rect x="743" y="705.85" width="32" height="7.10" fill="#51cf66"/>
<rect x="312" y="735.15" width="34" height="8.85" fill="#d4d2d4"/>
<rect x="313" y="735.75" width="32" height="7.95" fill="#51cf66"/>
<rect x="345" y="735.75" width="34" height="8.25" fill="#d4d2d4"/>
<rect x="346" y="737.75" width="32" height="5.95" fill="#51cf66"/>
<rect x="378" y="736.75" width="34" height="7.25" fill="#d4d2d4"/>
<rect x="379" y="738.75" width="32" height="4.95" fill="#faa2c1"/>
<rect x="411" y="739.15" width="34" height="4.85" fill="#d4d2d4"/>
<rect x="412" y="741.75" width="32" height="1.95" fill="#51cf66"/>
<rect x="412" y="739.75" width="32" height="1.10" fill="#e03131"/>
<rect x="444" y="739.15" width="34" height="4.85" fill="#d4d2d4"/>
<rect x="445" y="739.75" width="32" height="3.95" fill="#51cf66"/>
<rect x="477" y="739.15" width="34" height="4.85" fill="#d4d2d4"/>
<rect x="478" y="739.75" width="32" height="3.95" fill="#51cf66"/>
<rect x="510" y="741.15" width="35" height="2.85" fill="#d4d2d4"/>
<rect x="511" y="741.75" width="33" height="1.95" fill="#e03131"/>
<rect x="544" y="739.15" width="34" height="4.85" fill="#d4d2d4"/>
<rect x="545" y="739.75" width="32" height="3.95" fill="#51cf66"/>
<rect x="577" y="741.15" width="34" height="2.85" fill="#d4d2d4"/>
<rect x="578" y="741.75" width="32" height="1.95" fill="#51cf66"/>
<rect x="610" y="741.15" width="34" height="2.85" fill="#d4d2d4"/>
<rect x="611" y="741.75" width="32" height="1.95" fill="#51cf66"/>
<rect x="643" y="741.15" width="34" height="2.85" fill="#d4d2d4"/>
<rect x="644" y="741.75" width="32" height="1.95" fill="#51cf66"/>
<rect x="709" y="734.75" width="34" height="9.25" fill="#d4d2d4"/>
<rect x="710" y="736.75" width="32" height="6.95" fill="#51cf66"/>
<rect x="743" y="733.60" width="32" height="10.10" fill="#faa2c1"/>
<rect x="743" y="725.60" width="32" height="7.10" fill="#51cf66"/>
</g>
<g fill="#cbcbcb" shape-rendering="crispEdges">
<rect x="4" y="63" width="832" height="1"/>
<rect x="4" y="84" width="832" height="1"/>
<rect x="4" y="106" width="832" height="1"/>
<rect x="4" y="127" width="832" height="1"/>
<rect x="4" y="148" width="832" height="1"/>
<rect x="4" y="169" width="832" height="1"/>
<rect x="4" y="191" width="832" height="1"/>
<rect x="4" y="212" width="832" height="1"/>
<rect x="4" y="233" width="832" height="1"/>
<rect x="4" y="255" width="832" height="1"/>
<rect x="4" y="276" width="832" height="1"/>
<rect x="4" y="297" width="832" height="1"/>
<rect x="4" y="318" width="832" height="1"/>
<rect x="4" y="340" width="832" height="1"/>
<rect x="4" y="361" width="832" height="1"/>
<rect x="4" y="382" width="832" height="1"/>
<rect x="4" y="404" width="832" height="1"/>
<rect x="4" y="425" width="832" height="1"/>
<rect x="4" y="446" width="832" height="1"/>
<rect x="4" y="467" width="832" height="1"/>
<rect x="4" y="489" width="832" height="1"/>
<rect x="4" y="510" width="832" height="1"/>
<rect x="4" y="531" width="832" height="1"/>
<rect x="4" y="552" width="832" height="1"/>
<rect x="4" y="574" width="832" height="1"/>
<rect x="4" y="595" width="832" height="1"/>
<rect x="4" y="616" width="832" height="1"/>
<rect x="4" y="638" width="832" height="1"/>
<rect x="4" y="659" width="832" height="1"/>
<rect x="4" y="680" width="832" height="1"/>
<rect x="4" y="701" width="832" height="1"/>
<rect x="4" y="723" width="832" height="1"/>
<rect x="4" y="744" width="832" height="1"/>
<rect x="252" y="63" width="1" height="682"/>
<rect x="835" y="63" width="1" height="682"/>
</g>
<g fill="#ebebeb" shape-rendering="crispEdges">
<rect x="311" y="745" width="1" height="4"/>
<rect x="344" y="745" width="1" height="1"/>
<rect x="377" y="745" width="1" height="4"/>
<rect x="410" y="745" width="1" height="1"/>
<rect x="443" y="745" width="1" height="4"/>
<rect x="476" y="745" width="1" height="1"/>
<rect x="509" y="745" width="1" height="4"/>
<rect x="543" y="745" width="1" height="1"/>
<rect x="576" y="745" width="1" height="4"/>
<rect x="609" y="745" width="1" height="1"/>
<rect x="642" y="745" width="1" height="4"/>
<rect x="675" y="745" width="1" height="1"/>
<rect x="708" y="745" width="1" height="4"/>
<rect x="741" y="745" width="1" height="1"/>
<rect x="774" y="745" width="1" height="4"/>
</g>
<text x="10.4" y="77.0" class="d" textLength="121.7" lengthAdjust="spacingAndGlyphs">maharmedianews.com</text>
<clipPath id="c0"><rect x="200" y="63.5" width="50" height="20.5"/></clipPath>
<g clip-path="url(#c0)">
<text class="d r" transform="translate(214.0,79.4) rotate(-90)" textLength="14.8" lengthAdjust="spacingAndGlyphs">ms</text>
<text class="d r" transform="translate(228.6,82.5) rotate(-90)" textLength="20.2" lengthAdjust="spacingAndGlyphs">mts</text>
</g>
<text x="244.6" y="79.7" class="d" textLength="5.2" lengthAdjust="spacingAndGlyphs" text-anchor="end">1</text>
<text x="10.4" y="99.0" class="d" textLength="112.8" lengthAdjust="spacingAndGlyphs">mc.warnaing.website</text>
<clipPath id="c1"><rect x="200" y="84.5" width="50" height="21.5"/></clipPath>
<g clip-path="url(#c1)">
<text class="d r" transform="translate(214.0,101.0) rotate(-90)" textLength="14.8" lengthAdjust="spacingAndGlyphs">ms</text>
<text class="d r" transform="translate(228.6,103.7) rotate(-90)" textLength="20.2" lengthAdjust="spacingAndGlyphs">mts</text>
</g>
<text x="244.6" y="100.7" class="d" textLength="5.2" lengthAdjust="spacingAndGlyphs" text-anchor="end">1</text>
<text x="10.4" y="120.0" class="d" textLength="127.5" lengthAdjust="spacingAndGlyphs">medicalsharing.website</text>
<clipPath id="c2"><rect x="200" y="106.5" width="50" height="20.5"/></clipPath>
<g clip-path="url(#c2)">
<text class="d r" transform="translate(214.0,122.4) rotate(-90)" textLength="14.8" lengthAdjust="spacingAndGlyphs">ms</text>
<text class="d r" transform="translate(228.6,125.5) rotate(-90)" textLength="20.2" lengthAdjust="spacingAndGlyphs">mts</text>
</g>
<text x="244.6" y="122.7" class="d" textLength="5.2" lengthAdjust="spacingAndGlyphs" text-anchor="end">1</text>
<text x="10.4" y="141.0" class="d" textLength="91.5" lengthAdjust="spacingAndGlyphs">mmrednews.com</text>
<clipPath id="c3"><rect x="200" y="127.5" width="50" height="20.5"/></clipPath>
<g clip-path="url(#c3)">
<text class="d r" transform="translate(214.0,143.4) rotate(-90)" textLength="14.8" lengthAdjust="spacingAndGlyphs">ms</text>
<text class="d r" transform="translate(228.6,146.5) rotate(-90)" textLength="20.2" lengthAdjust="spacingAndGlyphs">mts</text>
</g>
<text x="244.6" y="143.7" class="d" textLength="5.2" lengthAdjust="spacingAndGlyphs" text-anchor="end">1</text>
<text x="10.4" y="162.0" class="d" textLength="123.9" lengthAdjust="spacingAndGlyphs">mmsportmyanmar.com</text>
<clipPath id="c4"><rect x="200" y="148.5" width="50" height="20.5"/></clipPath>
<g clip-path="url(#c4)">
<text class="d r" transform="translate(214.0,164.4) rotate(-90)" textLength="14.8" lengthAdjust="spacingAndGlyphs">ms</text>
<text class="d r" transform="translate(228.6,167.5) rotate(-90)" textLength="20.2" lengthAdjust="spacingAndGlyphs">mts</text>
</g>
<text x="244.6" y="164.7" class="d" textLength="5.2" lengthAdjust="spacingAndGlyphs" text-anchor="end">1</text>
<text x="10.4" y="184.0" class="d" textLength="124.7" lengthAdjust="spacingAndGlyphs">www.dmgburmese.com</text>
<clipPath id="c5"><rect x="200" y="169.5" width="50" height="21.5"/></clipPath>
<g clip-path="url(#c5)">
<text class="d r" transform="translate(214.0,186.0) rotate(-90)" textLength="14.8" lengthAdjust="spacingAndGlyphs">ms</text>
<text class="d r" transform="translate(228.6,188.7) rotate(-90)" textLength="20.2" lengthAdjust="spacingAndGlyphs">mts</text>
</g>
<text x="244.6" y="185.7" class="d" textLength="5.2" lengthAdjust="spacingAndGlyphs" text-anchor="end">1</text>
<text x="10.4" y="205.0" class="d" textLength="157.3" lengthAdjust="spacingAndGlyphs">www.newsvsinformation.com</text>
<clipPath id="c6"><rect x="200" y="191.5" width="50" height="20.5"/></clipPath>
<g clip-path="url(#c6)">
<text class="d r" transform="translate(214.0,207.4) rotate(-90)" textLength="14.8" lengthAdjust="spacingAndGlyphs">ms</text>
<text class="d r" transform="translate(228.6,210.5) rotate(-90)" textLength="20.2" lengthAdjust="spacingAndGlyphs">mts</text>
</g>
<text x="244.6" y="207.7" class="d" textLength="5.2" lengthAdjust="spacingAndGlyphs" text-anchor="end">1</text>
<text x="10.4" y="226.0" class="d" textLength="112.3" lengthAdjust="spacingAndGlyphs">www.phothutaw.com</text>
<clipPath id="c7"><rect x="200" y="212.5" width="50" height="20.5"/></clipPath>
<g clip-path="url(#c7)">
<text class="d r" transform="translate(214.0,228.4) rotate(-90)" textLength="14.8" lengthAdjust="spacingAndGlyphs">ms</text>
<text class="d r" transform="translate(228.6,231.5) rotate(-90)" textLength="20.2" lengthAdjust="spacingAndGlyphs">mts</text>
</g>
<text x="244.6" y="228.7" class="d" textLength="5.2" lengthAdjust="spacingAndGlyphs" text-anchor="end">1</text>
<text x="10.4" y="248.0" class="d" textLength="107.8" lengthAdjust="spacingAndGlyphs">barnyarbarnyar.com</text>
<clipPath id="c8"><rect x="200" y="233.5" width="50" height="21.5"/></clipPath>
<g clip-path="url(#c8)">
<text class="d r" transform="translate(214.0,250.0) rotate(-90)" textLength="14.8" lengthAdjust="spacingAndGlyphs">ms</text>
<text class="d r" transform="translate(228.6,252.7) rotate(-90)" textLength="20.2" lengthAdjust="spacingAndGlyphs">mts</text>
</g>
<text x="244.6" y="249.7" class="d" textLength="5.2" lengthAdjust="spacingAndGlyphs" text-anchor="end">1</text>
<text x="10.4" y="269.0" class="d" textLength="123.1" lengthAdjust="spacingAndGlyphs">burmachannel.website</text>
<clipPath id="c9"><rect x="200" y="255.5" width="50" height="20.5"/></clipPath>
<g clip-path="url(#c9)">
<text class="d r" transform="translate(214.0,271.4) rotate(-90)" textLength="14.8" lengthAdjust="spacingAndGlyphs">ms</text>
<text class="d r" transform="translate(228.6,274.5) rotate(-90)" textLength="20.2" lengthAdjust="spacingAndGlyphs">mts</text>
</g>
<text x="244.6" y="271.7" class="d" textLength="5.2" lengthAdjust="spacingAndGlyphs" text-anchor="end">1</text>
<text x="10.4" y="290.0" class="d" textLength="81.5" lengthAdjust="spacingAndGlyphs">celemedia.club</text>
<clipPath id="c10"><rect x="200" y="276.5" width="50" height="20.5"/></clipPath>
<g clip-path="url(#c10)">
<text class="d r" transform="translate(214.0,292.4) rotate(-90)" textLength="14.8" lengthAdjust="spacingAndGlyphs">ms</text>
<text class="d r" transform="translate(228.6,295.5) rotate(-90)" textLength="20.2" lengthAdjust="spacingAndGlyphs">mts</text>
</g>
<text x="244.6" y="292.7" class="d" textLength="5.2" lengthAdjust="spacingAndGlyphs" text-anchor="end">1</text>
<text x="10.4" y="311.0" class="d" textLength="84.4" lengthAdjust="spacingAndGlyphs">itechmedia.info</text>
<clipPath id="c11"><rect x="200" y="297.5" width="50" height="20.5"/></clipPath>
<g clip-path="url(#c11)">
<text class="d r" transform="translate(214.0,313.4) rotate(-90)" textLength="14.8" lengthAdjust="spacingAndGlyphs">ms</text>
<text class="d r" transform="translate(228.6,316.5) rotate(-90)" textLength="20.2" lengthAdjust="spacingAndGlyphs">mts</text>
</g>
<text x="244.6" y="313.7" class="d" textLength="5.2" lengthAdjust="spacingAndGlyphs" text-anchor="end">1</text>
<text x="10.4" y="333.0" class="d" textLength="79.1" lengthAdjust="spacingAndGlyphs">kalaykalar.com</text>
<clipPath id="c12"><rect x="200" y="318.5" width="50" height="21.5"/></clipPath>
<g clip-path="url(#c12)">
<text class="d r" transform="translate(214.0,335.0) rotate(-90)" textLength="14.8" lengthAdjust="spacingAndGlyphs">ms</text>
<text class="d r" transform="translate(228.6,337.7) rotate(-90)" textLength="20.2" lengthAdjust="spacingAndGlyphs">mts</text>
</g>
<text x="245.6" y="328.6" class="d" textLength="11.4" lengthAdjust="spacingAndGlyphs" text-anchor="end">10</text>
<text x="10.4" y="354.0" class="d" textLength="78.5" lengthAdjust="spacingAndGlyphs">karennews.org</text>
<clipPath id="c13"><rect x="200" y="340.5" width="50" height="20.5"/></clipPath>
<g clip-path="url(#c13)">
<text class="d r" transform="translate(214.0,356.4) rotate(-90)" textLength="14.8" lengthAdjust="spacingAndGlyphs">ms</text>
<text class="d r" transform="translate(228.6,359.5) rotate(-90)" textLength="20.2" lengthAdjust="spacingAndGlyphs">mts</text>
</g>
<text x="244.6" y="356.7" class="d" textLength="5.2" lengthAdjust="spacingAndGlyphs" text-anchor="end">1</text>
<text x="10.4" y="375.0" class="d" textLength="98.0" lengthAdjust="spacingAndGlyphs">mmtimenews.com</text>
<clipPath id="c14"><rect x="200" y="361.5" width="50" height="20.5"/></clipPath>
<g clip-path="url(#c14)">
<text class="d r" transform="translate(214.0,377.4) rotate(-90)" textLength="14.8" lengthAdjust="spacingAndGlyphs">ms</text>
<text class="d r" transform="translate(228.6,380.5) rotate(-90)" textLength="20.2" lengthAdjust="spacingAndGlyphs">mts</text>
</g>
<text x="244.6" y="377.7" class="d" textLength="5.2" lengthAdjust="spacingAndGlyphs" text-anchor="end">1</text>
<text x="10.4" y="397.0" class="d" textLength="136.1" lengthAdjust="spacingAndGlyphs">mmtimespecialnews.com</text>
<clipPath id="c15"><rect x="200" y="382.5" width="50" height="21.5"/></clipPath>
<g clip-path="url(#c15)">
<text class="d r" transform="translate(214.0,399.0) rotate(-90)" textLength="14.8" lengthAdjust="spacingAndGlyphs">ms</text>
<text class="d r" transform="translate(228.6,401.7) rotate(-90)" textLength="20.2" lengthAdjust="spacingAndGlyphs">mts</text>
</g>
<text x="244.6" y="398.7" class="d" textLength="5.2" lengthAdjust="spacingAndGlyphs" text-anchor="end">1</text>
<text x="10.4" y="418.0" class="d" textLength="49.1" lengthAdjust="spacingAndGlyphs">nenow.in</text>
<clipPath id="c16"><rect x="200" y="404.5" width="50" height="20.5"/></clipPath>
<g clip-path="url(#c16)">
<text class="d r" transform="translate(214.0,420.4) rotate(-90)" textLength="14.8" lengthAdjust="spacingAndGlyphs">ms</text>
<text class="d r" transform="translate(228.6,423.5) rotate(-90)" textLength="20.2" lengthAdjust="spacingAndGlyphs">mts</text>
</g>
<text x="244.6" y="420.7" class="d" textLength="5.2" lengthAdjust="spacingAndGlyphs" text-anchor="end">1</text>
<text x="10.4" y="439.0" class="d" textLength="81.1" lengthAdjust="spacingAndGlyphs">realthadin.com</text>
<clipPath id="c17"><rect x="200" y="425.5" width="50" height="20.5"/></clipPath>
<g clip-path="url(#c17)">
<text class="d r" transform="translate(214.0,441.4) rotate(-90)" textLength="14.8" lengthAdjust="spacingAndGlyphs">ms</text>
<text class="d r" transform="translate(228.6,444.5) rotate(-90)" textLength="20.2" lengthAdjust="spacingAndGlyphs">mts</text>
</g>
<text x="244.6" y="441.7" class="d" textLength="5.2" lengthAdjust="spacingAndGlyphs" text-anchor="end">1</text>
<text x="10.4" y="460.0" class="d" textLength="110.0" lengthAdjust="spacingAndGlyphs">rohingyakhobor.com</text>
<clipPath id="c18"><rect x="200" y="446.5" width="50" height="20.5"/></clipPath>
<g clip-path="url(#c18)">
<text class="d r" transform="translate(214.0,462.4) rotate(-90)" textLength="14.8" lengthAdjust="spacingAndGlyphs">ms</text>
<text class="d r" transform="translate(228.6,465.5) rotate(-90)" textLength="20.2" lengthAdjust="spacingAndGlyphs">mts</text>
</g>
<text x="245.6" y="456.6" class="d" textLength="11.4" lengthAdjust="spacingAndGlyphs" text-anchor="end">10</text>
<text x="10.4" y="482.0" class="d" textLength="70.8" lengthAdjust="spacingAndGlyphs">santhitsa.net</text>
<clipPath id="c19"><rect x="200" y="467.5" width="50" height="21.5"/></clipPath>
<g clip-path="url(#c19)">
<text class="d r" transform="translate(214.0,484.0) rotate(-90)" textLength="14.8" lengthAdjust="spacingAndGlyphs">ms</text>
<text class="d r" transform="translate(228.6,486.7) rotate(-90)" textLength="20.2" lengthAdjust="spacingAndGlyphs">mts</text>
</g>
<text x="245.6" y="477.6" class="d" textLength="11.4" lengthAdjust="spacingAndGlyphs" text-anchor="end">10</text>
<text x="10.4" y="503.0" class="d" textLength="96.1" lengthAdjust="spacingAndGlyphs">shweman.website</text>
<clipPath id="c20"><rect x="200" y="489.5" width="50" height="20.5"/></clipPath>
<g clip-path="url(#c20)">
<text class="d r" transform="translate(214.0,505.4) rotate(-90)" textLength="14.8" lengthAdjust="spacingAndGlyphs">ms</text>
<text class="d r" transform="translate(228.6,508.5) rotate(-90)" textLength="20.2" lengthAdjust="spacingAndGlyphs">mts</text>
</g>
<text x="244.6" y="505.7" class="d" textLength="5.2" lengthAdjust="spacingAndGlyphs" text-anchor="end">1</text>
<text x="10.4" y="524.0" class="d" textLength="132.5" lengthAdjust="spacingAndGlyphs">sportmyanmarnews.com</text>
<clipPath id="c21"><rect x="200" y="510.5" width="50" height="20.5"/></clipPath>
<g clip-path="url(#c21)">
<text class="d r" transform="translate(214.0,526.4) rotate(-90)" textLength="14.8" lengthAdjust="spacingAndGlyphs">ms</text>
<text class="d r" transform="translate(228.6,529.5) rotate(-90)" textLength="20.2" lengthAdjust="spacingAndGlyphs">mts</text>
</g>
<text x="244.6" y="526.7" class="d" textLength="5.2" lengthAdjust="spacingAndGlyphs" text-anchor="end">1</text>
<text x="10.4" y="545.0" class="d" textLength="88.4" lengthAdjust="spacingAndGlyphs">thatinhman.com</text>
<clipPath id="c22"><rect x="200" y="531.5" width="50" height="20.5"/></clipPath>
<g clip-path="url(#c22)">
<text class="d r" transform="translate(214.0,547.4) rotate(-90)" textLength="14.8" lengthAdjust="spacingAndGlyphs">ms</text>
<text class="d r" transform="translate(228.6,550.5) rotate(-90)" textLength="20.2" lengthAdjust="spacingAndGlyphs">mts</text>
</g>
<text x="245.6" y="541.6" class="d" textLength="11.4" lengthAdjust="spacingAndGlyphs" text-anchor="end">10</text>
<text x="10.4" y="567.0" class="d" textLength="124.2" lengthAdjust="spacingAndGlyphs">tipsmyanmarnews.com</text>
<clipPath id="c23"><rect x="200" y="552.5" width="50" height="21.5"/></clipPath>
<g clip-path="url(#c23)">
<text class="d r" transform="translate(214.0,569.0) rotate(-90)" textLength="14.8" lengthAdjust="spacingAndGlyphs">ms</text>
<text class="d r" transform="translate(228.6,571.7) rotate(-90)" textLength="20.2" lengthAdjust="spacingAndGlyphs">mts</text>
</g>
<text x="244.6" y="568.7" class="d" textLength="5.2" lengthAdjust="spacingAndGlyphs" text-anchor="end">1</text>
<text x="10.4" y="588.0" class="d" textLength="91.7" lengthAdjust="spacingAndGlyphs">topmmnews.com</text>
<clipPath id="c24"><rect x="200" y="574.5" width="50" height="20.5"/></clipPath>
<g clip-path="url(#c24)">
<text class="d r" transform="translate(214.0,590.4) rotate(-90)" textLength="14.8" lengthAdjust="spacingAndGlyphs">ms</text>
<text class="d r" transform="translate(228.6,593.5) rotate(-90)" textLength="20.2" lengthAdjust="spacingAndGlyphs">mts</text>
</g>
<text x="244.6" y="590.7" class="d" textLength="5.2" lengthAdjust="spacingAndGlyphs" text-anchor="end">1</text>
<text x="10.4" y="609.0" class="d" textLength="103.1" lengthAdjust="spacingAndGlyphs">trend.lwinpyin.com</text>
<clipPath id="c25"><rect x="200" y="595.5" width="50" height="20.5"/></clipPath>
<g clip-path="url(#c25)">
<text class="d r" transform="translate(214.0,611.4) rotate(-90)" textLength="14.8" lengthAdjust="spacingAndGlyphs">ms</text>
<text class="d r" transform="translate(228.6,614.5) rotate(-90)" textLength="20.2" lengthAdjust="spacingAndGlyphs">mts</text>
</g>
<text x="245.6" y="605.6" class="d" textLength="11.4" lengthAdjust="spacingAndGlyphs" text-anchor="end">10</text>
<text x="10.4" y="631.0" class="d" textLength="102.2" lengthAdjust="spacingAndGlyphs">www.chitsakar.com</text>
<clipPath id="c26"><rect x="200" y="616.5" width="50" height="21.5"/></clipPath>
<g clip-path="url(#c26)">
<text class="d r" transform="translate(214.0,633.0) rotate(-90)" textLength="14.8" lengthAdjust="spacingAndGlyphs">ms</text>
<text class="d r" transform="translate(228.6,635.7) rotate(-90)" textLength="20.2" lengthAdjust="spacingAndGlyphs">mts</text>
</g>
<text x="244.6" y="632.7" class="d" textLength="5.2" lengthAdjust="spacingAndGlyphs" text-anchor="end">1</text>
<text x="10.4" y="652.0" class="d" textLength="102.9" lengthAdjust="spacingAndGlyphs">www.narinjara.com</text>
<clipPath id="c27"><rect x="200" y="638.5" width="50" height="20.5"/></clipPath>
<g clip-path="url(#c27)">
<text class="d r" transform="translate(214.0,654.4) rotate(-90)" textLength="14.8" lengthAdjust="spacingAndGlyphs">ms</text>
<text class="d r" transform="translate(228.6,657.5) rotate(-90)" textLength="20.2" lengthAdjust="spacingAndGlyphs">mts</text>
</g>
<text x="244.6" y="654.7" class="d" textLength="5.2" lengthAdjust="spacingAndGlyphs" text-anchor="end">1</text>
<text x="10.4" y="673.0" class="d" textLength="119.1" lengthAdjust="spacingAndGlyphs">www.onlinelawka.com</text>
<clipPath id="c28"><rect x="200" y="659.5" width="50" height="20.5"/></clipPath>
<g clip-path="url(#c28)">
<text class="d r" transform="translate(214.0,675.4) rotate(-90)" textLength="14.8" lengthAdjust="spacingAndGlyphs">ms</text>
<text class="d r" transform="translate(228.6,678.5) rotate(-90)" textLength="20.2" lengthAdjust="spacingAndGlyphs">mts</text>
</g>
<text x="244.6" y="675.7" class="d" textLength="5.2" lengthAdjust="spacingAndGlyphs" text-anchor="end">1</text>
<text x="10.4" y="694.0" class="d" textLength="155.4" lengthAdjust="spacingAndGlyphs">www.rohingyanewsbank.com</text>
<clipPath id="c29"><rect x="200" y="680.5" width="50" height="20.5"/></clipPath>
<g clip-path="url(#c29)">
<text class="d r" transform="translate(214.0,696.4) rotate(-90)" textLength="14.8" lengthAdjust="spacingAndGlyphs">ms</text>
<text class="d r" transform="translate(228.6,699.5) rotate(-90)" textLength="20.2" lengthAdjust="spacingAndGlyphs">mts</text>
</g>
<text x="244.6" y="696.7" class="d" textLength="5.2" lengthAdjust="spacingAndGlyphs" text-anchor="end">1</text>
<text x="10.4" y="716.0" class="d" textLength="119.6" lengthAdjust="spacingAndGlyphs">www.thestateless.com</text>
<clipPath id="c30"><rect x="200" y="701.5" width="50" height="21.5"/></clipPath>
<g clip-path="url(#c30)">
<text class="d r" transform="translate(214.0,718.0) rotate(-90)" textLength="14.8" lengthAdjust="spacingAndGlyphs">ms</text>
<text class="d r" transform="translate(228.6,720.7) rotate(-90)" textLength="20.2" lengthAdjust="spacingAndGlyphs">mts</text>
</g>
<text x="245.6" y="711.6" class="d" textLength="11.4" lengthAdjust="spacingAndGlyphs" text-anchor="end">10</text>
<text x="10.4" y="737.0" class="d" textLength="109.2" lengthAdjust="spacingAndGlyphs">www.vom-news.com</text>
<clipPath id="c31"><rect x="200" y="723.5" width="50" height="20.5"/></clipPath>
<g clip-path="url(#c31)">
<text class="d r" transform="translate(214.0,739.4) rotate(-90)" textLength="14.8" lengthAdjust="spacingAndGlyphs">ms</text>
<text class="d r" transform="translate(228.6,742.1) rotate(-90)" textLength="20.2" lengthAdjust="spacingAndGlyphs">mts</text>
</g>
<text x="244.6" y="739.7" class="d" textLength="5.2" lengthAdjust="spacingAndGlyphs" text-anchor="end">1</text>
<text x="312.0" y="762.2" class="d" textLength="32.5" lengthAdjust="spacingAndGlyphs" text-anchor="middle">Feb 11</text>
<text x="378.0" y="762.2" class="d" textLength="33.5" lengthAdjust="spacingAndGlyphs" text-anchor="middle">Feb 13</text>
<text x="444.0" y="762.2" class="d" textLength="33.6" lengthAdjust="spacingAndGlyphs" text-anchor="middle">Feb 15</text>
<text x="510.0" y="762.2" class="d" textLength="32.9" lengthAdjust="spacingAndGlyphs" text-anchor="middle">Feb 17</text>
<text x="577.0" y="762.2" class="d" textLength="34.0" lengthAdjust="spacingAndGlyphs" text-anchor="middle">Feb 19</text>
<text x="643.0" y="762.2" class="d" textLength="33.1" lengthAdjust="spacingAndGlyphs" text-anchor="middle">Feb 21</text>
<text x="709.0" y="762.2" class="d" textLength="34.2" lengthAdjust="spacingAndGlyphs" text-anchor="middle">Feb 23</text>
<text x="775.0" y="762.2" class="d" textLength="34.3" lengthAdjust="spacingAndGlyphs" text-anchor="middle">Feb 25</text>
<text x="415.3" y="784.2" class="k" textLength="256.9" lengthAdjust="spacingAndGlyphs">Day of Measurement Start Time [February 2021]</text>
<text x="845.5" y="17.0" class="k" textLength="85.7" lengthAdjust="spacingAndGlyphs">Measure Names</text>
<rect x="848" y="24.6" width="13" height="12" fill="#d4d2d4"/>
<rect x="848.6" y="25.200000000000003" width="11.8" height="10.8" fill="#f76707"/>
<text x="866.4" y="34.4" class="k" textLength="20.4" lengthAdjust="spacingAndGlyphs">Dns</text>
<rect x="848" y="44.6" width="13" height="12" fill="#d4d2d4"/>
<rect x="848.6" y="45.2" width="11.8" height="10.8" fill="#343a40"/>
<text x="866.4" y="54.4" class="k" textLength="47.8" lengthAdjust="spacingAndGlyphs">Http-Diff</text>
<rect x="848" y="64.6" width="13" height="12" fill="#d4d2d4"/>
<rect x="848.6" y="65.19999999999999" width="11.8" height="10.8" fill="#ffd43b"/>
<text x="866.4" y="74.4" class="k" textLength="54.8" lengthAdjust="spacingAndGlyphs">confirmed</text>
<rect x="848" y="84.6" width="13" height="12" fill="#d4d2d4"/>
<rect x="848.6" y="85.19999999999999" width="11.8" height="10.8" fill="#e03131"/>
<text x="866.4" y="94.4" class="k" textLength="64.8" lengthAdjust="spacingAndGlyphs">Http-Failure</text>
<rect x="848" y="104.6" width="13" height="12" fill="#d4d2d4"/>
<rect x="848.6" y="105.19999999999999" width="11.8" height="10.8" fill="#51cf66"/>
<text x="866.4" y="114.4" class="k" textLength="14.5" lengthAdjust="spacingAndGlyphs">Ok</text>
<rect x="848" y="124.6" width="13" height="12" fill="#d4d2d4"/>
<rect x="848.6" y="125.19999999999999" width="11.8" height="10.8" fill="#faa2c1"/>
<text x="866.4" y="134.4" class="k" textLength="31.8" lengthAdjust="spacingAndGlyphs">Tcp Ip</text>
<g id="ooni">
<circle cx="38.7" cy="763.3" r="21.8" fill="#fff" stroke="#000" stroke-width="3.1"/>
<g transform="translate(10,736) scale(0.06757)" fill="none" stroke="#000" stroke-linecap="round" stroke-linejoin="round">
<ellipse cx="418" cy="252" rx="104" ry="102" fill="#000" stroke="none"/>
<path d="M366 330 L362 428 Q420 478 484 428 L480 330 Z" fill="#000" stroke="none"/>
<circle cx="400" cy="275" r="46" fill="#fff" stroke="none"/>
<circle cx="395" cy="276" r="13" fill="#000" stroke="none"/>
<path d="M395 405 C350 450 270 450 235 400 C205 350 250 295 300 315 C340 335 330 385 298 378" stroke-width="38"/>
<path d="M465 395 C490 450 560 470 605 425 C650 370 590 330 572 285 C560 250 580 232 604 226" stroke-width="38"/>
<path d="M405 440 C370 480 300 500 300 540 C300 585 375 580 372 615 C370 640 350 648 336 650" stroke-width="34"/>
<path d="M445 440 C480 480 540 520 535 570 C530 615 460 625 435 590 C415 555 450 525 480 545" stroke-width="34"/>
</g>
</g>
<text x="68.4" y="775.6" class="o" textLength="94.2" lengthAdjust="spacingAndGlyphs" stroke="#000" stroke-width="0.5">OONI</text>
</svg></body></html>
